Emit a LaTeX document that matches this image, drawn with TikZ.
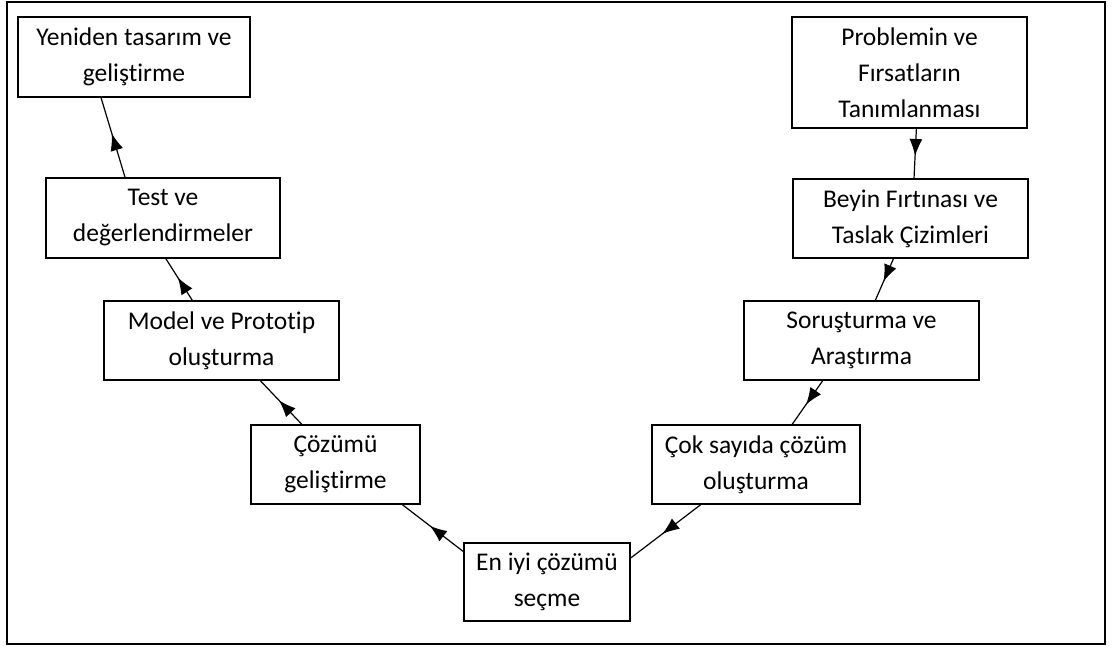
\documentclass[tikz,border=0pt]{standalone}
\usepackage{fontspec}
\setmainfont{Carlito}[Ligatures=NoCommon]
\usepackage{tikz}
\usetikzlibrary{arrows.meta,decorations.markings}

\begin{document}
\begin{tikzpicture}[
    x=1pt, y=-1pt,
    stage/.style={
      rectangle, draw=black, line width=1.4pt, inner sep=0pt,
      minimum width=235pt, minimum height=79pt,
      align=center, font=\fontsize{25.5}{36}\selectfont
    },
    midarrow/.style={
      line width=1.2pt,
      postaction={decorate},
      decoration={markings,
        mark=at position 0.55 with {\arrow{Latex[length=17pt,width=13pt]}}}
    },
  ]

  \useasboundingbox (0,0) rectangle (1113,650);
  \draw[line width=2.4pt] (7,2) rectangle (1105,644);

  %% Nodes, right branch (going down)
  \node[stage, minimum height=111pt] (problem) at (909.5,72.5)
    {Problemin ve\\Fırsatların\\Tanımlanması};
  \node[stage] (beyin) at (910.5,218.5) {Beyin Fırtınası ve\\Taslak Çizimleri};
  \node[stage] (sorus) at (861.5,340.5) {Soruşturma ve\\Araştırma};
  \node[stage, minimum width=208pt] (cok) at (756,464.5)
    {Çok sayıda çözüm\\oluşturma};

  %% Bottom
  \node[stage, minimum width=166pt, minimum height=78pt] (eniyi) at (547,582)
    {En iyi çözümü\\seçme};

  %% Nodes, left branch (going up)
  \node[stage, minimum width=169pt] (cozumu) at (335.5,464.5) {Çözümü\\geliştirme};
  \node[stage] (model) at (221.5,340.5) {Model ve Prototip\\oluşturma};
  \node[stage, minimum width=234pt, minimum height=80pt] (test) at (163,218)
    {Test ve\\değerlendirmeler};
  \node[stage, minimum width=232pt, minimum height=80pt] (yeniden) at (134,57)
    {Yeniden tasarım ve\\geliştirme};

  %% Arrows
  \draw[midarrow] (problem.-83) -- (beyin.85);
  \draw[midarrow] (beyin.247) -- (sorus.71);
  \draw[midarrow] (sorus.226) -- (cok.48);
  \draw[midarrow] (cok.216) -- (eniyi.16);
  \draw[midarrow] (eniyi.160) -- (cozumu.-31);
  \draw[midarrow] (cozumu.130) -- (model.-46);
  \draw[midarrow] (model.126) -- (test.-86);
  \draw[midarrow] (test.133) -- (yeniden.-129);

\end{tikzpicture}
\end{document}
